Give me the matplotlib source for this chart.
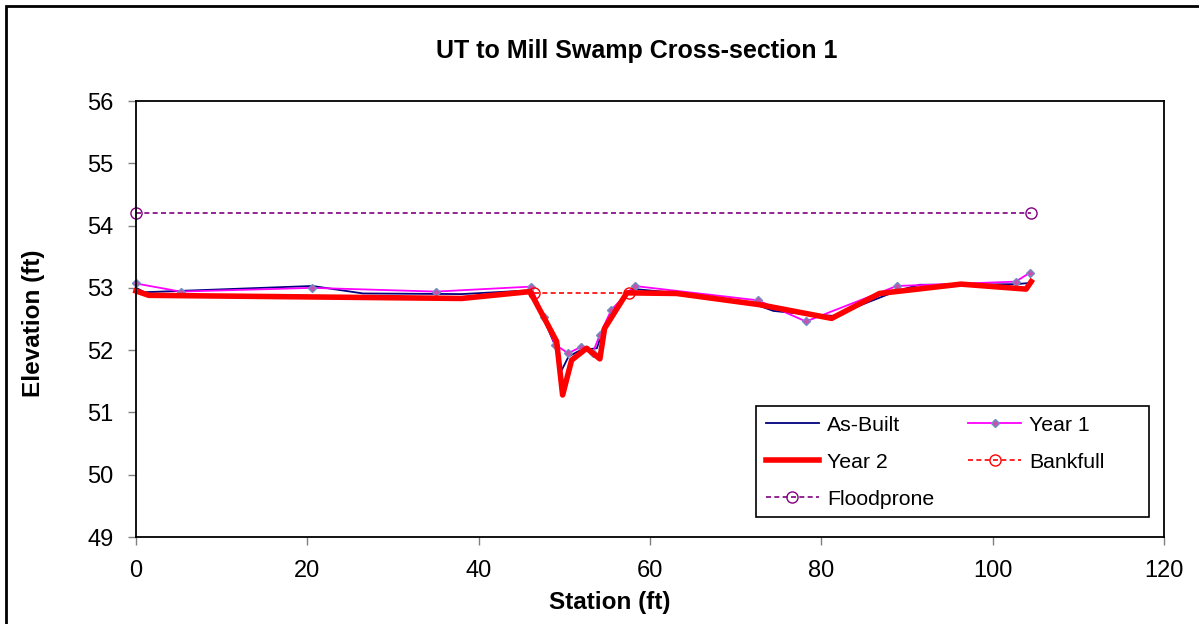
import matplotlib
matplotlib.use('Agg')
import matplotlib.pyplot as plt
from matplotlib.patches import Rectangle

plt.rcParams['font.family'] = ['Liberation Sans', 'DejaVu Sans']

# As-Built survey
asbuilt_x = [0, 1, 20.6, 26.5, 38, 46, 47.6, 49, 49.7, 50.5, 51.9, 53.8, 54.2, 55.5, 57.5, 58.2,
             63, 72.6, 74.4, 76.5, 81.4, 88.8, 91.5, 96.3, 102.7, 104.5]
asbuilt_y = [53.0, 52.93, 53.03, 52.91, 52.9, 52.96, 52.5, 52.05, 51.68, 51.9, 52.0, 52.03, 52.2, 52.62, 52.95, 52.98,
             52.92, 52.72, 52.63, 52.6, 52.55, 52.95, 53.05, 53.05, 53.06, 53.08]

# Year 1 survey
year1_x = [0, 5.2, 20.6, 35.0, 46.1, 47.6, 48.9, 50.45, 51.9, 53.3, 54.15, 55.5, 58.2,
           72.6, 78.2, 88.8, 102.7, 104.3]
year1_y = [53.07, 52.94, 53.0, 52.94, 53.02, 52.54, 52.09, 51.95, 52.05, 51.95, 52.25, 52.65, 53.03,
           52.8, 52.46, 53.03, 53.10, 53.24]

# Year 2 survey
year2_x = [0, 1.5, 38, 46, 49.1, 49.8, 50.85, 52.6, 54.15, 54.7, 57.3, 63.1, 72.8, 81.2, 86.8, 96.3, 103.9, 104.5]
year2_y = [52.95, 52.88, 52.83, 52.94, 52.14, 51.28, 51.84, 52.03, 51.86, 52.35, 52.92, 52.91, 52.73, 52.51,
           52.91, 53.06, 52.98, 53.1]

bankfull_x = [46.5, 57.5]
bankfull_y = [52.92, 52.92]

floodprone_x = [0, 104.5]
floodprone_y = [54.2, 54.2]

fig = plt.figure(figsize=(11.99, 6.24), dpi=100)
ax = fig.add_axes([136 / 1199, 1 - 537 / 624, (1164 - 136) / 1199, (537 - 101) / 624])

h_ab, = ax.plot(asbuilt_x, asbuilt_y, color='#000080', linewidth=1.3, label='As-Built', clip_on=False)
h_y1, = ax.plot(year1_x, year1_y, color='#ff00ff', linewidth=1.3, marker='D', markersize=4.5,
                markerfacecolor='#c850b0', markeredgecolor='#6f8fc0', markeredgewidth=1.0,
                label='Year 1', clip_on=False)
h_y2, = ax.plot(year2_x, year2_y, color='#ff0000', linewidth=4, label='Year 2', clip_on=False)
h_bf, = ax.plot(bankfull_x, bankfull_y, color='#ff0000', linewidth=1.2, linestyle=(0, (3, 2)),
                marker='o', markersize=8, markerfacecolor='none', markeredgecolor='#ff0000',
                label='Bankfull', clip_on=False)
h_fp, = ax.plot(floodprone_x, floodprone_y, color='#800080', linewidth=1.2, linestyle=(0, (3, 2)),
                marker='o', markersize=8, markerfacecolor='none', markeredgecolor='#800080',
                label='Floodprone', clip_on=False)

ax.set_xlim(0, 120)
ax.set_ylim(49, 56)
ax.set_xticks(range(0, 121, 20))
ax.set_yticks(range(49, 57))
ax.tick_params(direction='out', length=5.8, width=1, color='#808080', labelsize=17)
ax.tick_params(axis='y', pad=10.5)
ax.tick_params(axis='x', pad=10.5)
for s in ax.spines.values():
    s.set_linewidth(1.3)
    s.set_color('black')

ax.set_xlabel('Station (ft)', fontsize=17.5, fontweight='bold')
ax.xaxis.set_label_coords((610 - 136) / 1028, (537 - 602) / 436)
ax.xaxis.label.set_va('center')
ax.set_ylabel('Elevation (ft)', fontsize=17.5, fontweight='bold')
ax.yaxis.set_label_coords((34 - 136) / 1028, (537 - 323) / 436)
ax.yaxis.label.set_va('center')

fig.text(637 / 1199, 1 - 51 / 624, 'UT to Mill Swamp Cross-section 1', fontsize=18, fontweight='bold',
         ha='center', va='center')

# legend: row-wise order As-Built, Year 1 / Year 2, Bankfull / Floodprone
handles = [h_ab, h_y2, h_fp, h_y1, h_bf]
leg_box = ((756 - 136) / 1028, (537 - 517) / 436, (1149 - 756) / 1028, (517 - 406) / 436)
leg = ax.legend(handles=handles, labels=[h.get_label() for h in handles], ncol=2,
                loc='upper left', bbox_to_anchor=(leg_box[0], leg_box[1] + leg_box[3]),
                fontsize=15.3, frameon=False, borderaxespad=0, borderpad=0.45,
                handlelength=2.5, handletextpad=0.38, columnspacing=1.6, labelspacing=0.85)
ax.add_patch(Rectangle(leg_box[:2], leg_box[2], leg_box[3], transform=ax.transAxes,
                       fill=False, edgecolor='black', linewidth=1.2, zorder=5))

fig.patches.append(Rectangle((6 / 1199, -0.1), 1.2, 1.1 - 6 / 624, transform=fig.transFigure,
                             fill=False, edgecolor='black', linewidth=2))

fig.savefig('out.png', dpi=100)
